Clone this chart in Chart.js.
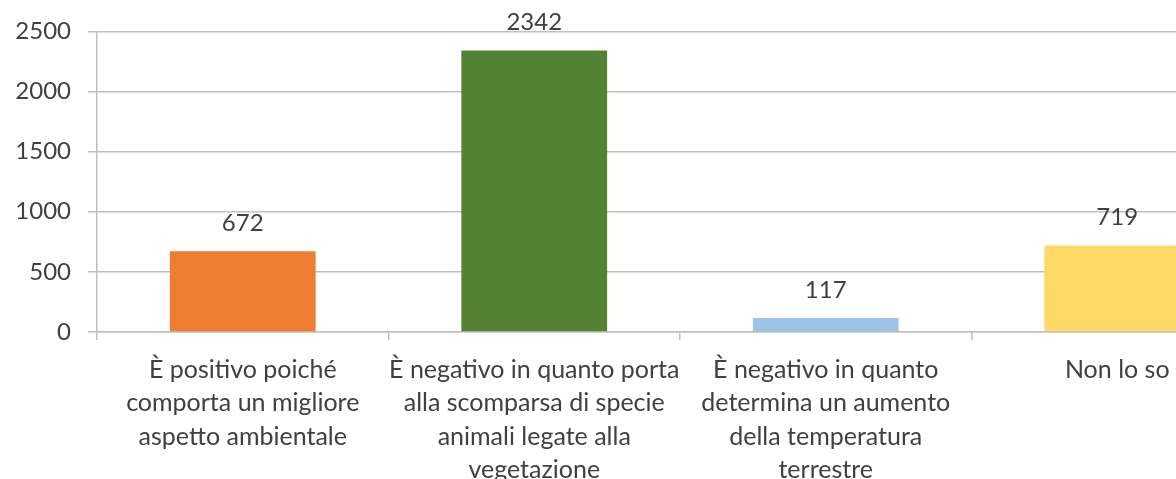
<!DOCTYPE html>
<html lang="it">
<head>
<meta charset="utf-8">
<title>Grafico risposte</title>
<script src="https://cdn.jsdelivr.net/npm/chart.js@4/dist/chart.umd.min.js"></script>
<style>
  html, body { margin: 0; padding: 0; background: #fff; overflow: hidden; }
  #wrap { width: 1176px; height: 479px; overflow: hidden; }
  canvas { display: block; }
</style>
</head>
<body>
<div id="wrap"><canvas id="chart" width="1263" height="479"></canvas></div>
<script>
// Categories (multi-line labels as in the original)
const categories = [
  ['È positivo poiché', 'comporta un migliore', 'aspetto ambientale'],
  ['È negativo in quanto porta', 'alla scomparsa di specie', 'animali legate alla', 'vegetazione'],
  ['È negativo in quanto', 'determina un aumento', 'della temperatura', 'terrestre'],
  ['Non lo so']
];
const values = [672, 2342, 117, 719];
const barColors = ['#ED7D31', '#548235', '#9DC3E6', '#FFD966'];
const yTicks = [0, 500, 1000, 1500, 2000, 2500];

const textColor = '#404040';
const gridColor = '#bfbfbf';
const fontFamily = 'Lato, "Open Sans", sans-serif';

// Simple value labels above each bar
const valueLabels = {
  id: 'valueLabels',
  afterDatasetsDraw(chart) {
    const ctx = chart.ctx;
    const meta = chart.getDatasetMeta(0);
    ctx.save();
    ctx.font = '24px ' + fontFamily;
    ctx.fillStyle = textColor;
    ctx.textAlign = 'center';
    ctx.textBaseline = 'middle';
    meta.data.forEach((bar, i) => {
      ctx.fillText(String(values[i]), bar.x, bar.y - 28);
    });
    ctx.restore();
  }
};

new Chart(document.getElementById('chart'), {
  type: 'bar',
  data: {
    labels: categories,
    datasets: [{
      data: values,
      backgroundColor: barColors,
      borderWidth: 0,
      categoryPercentage: 1,
      barPercentage: 0.5
    }]
  },
  options: {
    responsive: false,
    animation: false,
    layout: { padding: { top: 31, right: 0, bottom: 0, left: 0 } },
    plugins: {
      legend: { display: false },
      tooltip: { enabled: false }
    },
    scales: {
      x: {
        offset: true,
        grid: {
          offset: true,
          drawOnChartArea: false,
          drawTicks: true,
          tickLength: 8,
          color: gridColor,
          lineWidth: 1.5
        },
        border: { color: gridColor, width: 1.5 },
        ticks: {
          color: textColor,
          font: { family: fontFamily, size: 25, lineHeight: 1.34 },
          padding: 13,
          maxRotation: 0,
          autoSkip: false
        },
        afterFit: (scale) => { scale.height = 479 - 332; }
      },
      y: {
        min: 0,
        max: 2500,
        afterBuildTicks: (scale) => { scale.ticks = yTicks.map(v => ({ value: v })); },
        grid: {
          color: gridColor,
          lineWidth: 1.5,
          tickLength: 9
        },
        border: { color: gridColor, width: 1.5 },
        ticks: {
          color: textColor,
          font: { family: fontFamily, size: 24 },
          padding: 17,
          callback: (value) => String(value)
        },
        afterFit: (scale) => { scale.width = 97; }
      }
    }
  },
  plugins: [valueLabels]
});
</script>
</body>
</html>
